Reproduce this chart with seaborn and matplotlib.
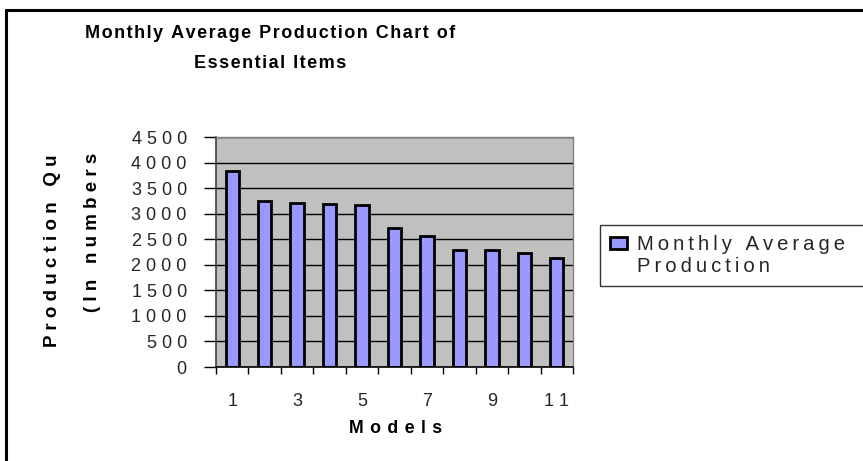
import matplotlib
matplotlib.use("Agg")
import matplotlib.pyplot as plt
from matplotlib.lines import Line2D
from matplotlib.patches import Patch
from matplotlib.transforms import Bbox, TransformedBbox
import seaborn as sns

# Monthly average production per model
models = [1, 2, 3, 4, 5, 6, 7, 8, 9, 10, 11]
production = [3830, 3240, 3210, 3180, 3170, 2720, 2570, 2290, 2290, 2240, 2140]
y_ticks = [0, 500, 1000, 1500, 2000, 2500, 3000, 3500, 4000, 4500]

title_lines = ["Monthly Average Production Chart of", "Essential Items"]
x_label = "Models"
y_label_lines = ["Production Quantity", "(In numbers)"]
legend_lines = ["Monthly Average", "Production"]

W, H = 863, 461

HAIR = "\u200a"
THIN = "\u2009"


def spaced(s, gap=THIN):
    return gap.join(s)


sns.set_theme(style="white")
plt.rcParams["font.family"] = ["Liberation Sans", "DejaVu Sans"]

fig = plt.figure(figsize=(W / 100, H / 100), dpi=100)
fig.patch.set_facecolor("white")


def fx(px):
    return px / W


def fy(py):
    return 1 - py / H


ax = fig.add_axes([fx(216), fy(367), fx(573) - fx(216), fy(137) - fy(367)])
ax.set_facecolor("#c0c0c0")

sns.barplot(x=models, y=production, color="#9999ff", edgecolor="black",
            linewidth=2, width=0.41, saturation=1, ax=ax)

ax.set_xlim(-0.5, len(models) - 0.5)
ax.set_ylim(0, 4500)
ax.set_yticks(y_ticks)
ax.set_yticklabels([spaced(str(v), " ") for v in y_ticks], fontsize=13)
ax.yaxis.grid(True, color="black", linewidth=1)
ax.set_axisbelow(True)

ax.set_xticks(range(len(models)))
ax.set_xticklabels([spaced(str(m), " ") if m % 2 == 1 else "" for m in models],
                   fontsize=13)
ax.set_xticks([i - 0.5 for i in range(len(models) + 1)], minor=True)
ax.tick_params(axis="x", which="major", length=0, pad=19)
ax.tick_params(axis="x", which="minor", length=5, width=1, color="black",
               direction="out", bottom=True)
ax.tick_params(axis="y", length=9, width=1, color="black", direction="out",
               left=True, pad=12)

for side in ["top", "right"]:
    ax.spines[side].set_color("#808080")
    ax.spines[side].set_linewidth(1)
ax.spines["left"].set_color("#404040")
ax.spines["bottom"].set_color("black")
for side in ["left", "bottom"]:
    ax.spines[side].set_linewidth(1.2)
ax.set_xlabel("")
ax.set_ylabel("")

# Title
for ypx, line in zip([33, 63], title_lines):
    fig.text(fx(270), fy(ypx), spaced(line, HAIR), ha="center", va="center",
             fontsize=13, fontweight="bold", color="black")

# Axis titles
fig.text(fx(396), fy(428), spaced(x_label, " " + HAIR), ha="center",
         va="center", fontsize=12.8, fontweight="bold", color="black")

clip = TransformedBbox(Bbox.from_extents(0, 0, 1, fy(150)), fig.transFigure)
for xpx, ypx, line in zip([52, 92], [347, 312], y_label_lines):
    t = fig.text(fx(xpx), fy(ypx), spaced(line, " "), rotation=90,
                 ha="left", va="center", rotation_mode="anchor",
                 fontsize=13.5, fontweight="bold", color="black")
    t.set_clip_box(clip)
    t.set_clip_on(True)

# Legend: series swatch on the first line, wrapped text on the second
bar_handle = Patch(facecolor="#9999ff", edgecolor="black", linewidth=2)
blank_handle = Patch(facecolor="none", edgecolor="none")
leg = ax.legend([bar_handle, blank_handle],
                [spaced(s) for s in legend_lines],
                loc="upper left", mode="expand",
                bbox_to_anchor=(fx(600), fy(282), fx(900) - fx(600), fy(225) - fy(282)),
                bbox_transform=fig.transFigure, frameon=True, fancybox=False,
                shadow=False, fontsize=14.6, borderpad=0.5, labelspacing=0.15,
                handlelength=0.85, handleheight=0.55, handletextpad=0.45,
                borderaxespad=0)
leg.get_frame().set_edgecolor("black")
leg.get_frame().set_linewidth(1)

# Chart-area border
fig.add_artist(Line2D([fx(5.5), fx(5.5)], [0, fy(10)], color="black", linewidth=2.2))
fig.add_artist(Line2D([fx(5.5), 1], [fy(10.5), fy(10.5)], color="black", linewidth=2.2))

fig.savefig("out.png", dpi=100, facecolor="white")
